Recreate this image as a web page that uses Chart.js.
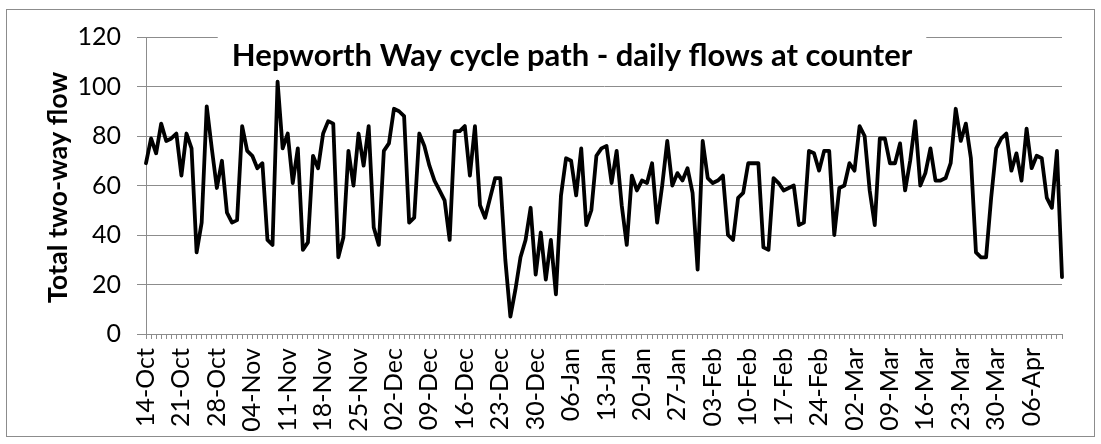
<!DOCTYPE html>
<html>
<head>
<meta charset="utf-8">
<title>Hepworth Way cycle path</title>
<script src="https://cdn.jsdelivr.net/npm/chart.js@4.4.1/dist/chart.umd.min.js"></script>
<style>
  html, body { margin: 0; padding: 0; background: #fff; }
  #wrap { width: 1101px; height: 444px; }
</style>
</head>
<body>
<div id="wrap"><canvas id="flowChart" width="1101" height="444"></canvas></div>
<script>
// daily two-way counts, one array per month
const octFlows = [69, 79, 73, 85, 78, 79, 81, 64, 81, 75, 33, 45, 92, 75, 59, 70, 49, 45];
const novFlows = [46, 84, 74, 72, 67, 69, 38, 36, 102, 75, 81, 61, 75, 34, 37, 72, 67, 81, 86, 85,
                  31, 39, 74, 60, 81, 68, 84, 43, 36, 74];
const decFlows = [77, 91, 90, 88, 45, 47, 81, 76, 68, 62, 58, 54, 38, 82, 82, 84, 64, 84, 52, 47,
                  55, 63, 63, 30, 7, 18, 31, 38, 51, 24, 41];
const janFlows = [22, 38, 16, 56, 71, 70, 56, 75, 44, 50, 72, 75, 76, 61, 74, 52, 36, 64, 58, 62,
                  61, 69, 45, 60, 78, 60, 65, 62, 67, 57, 26];
const febFlows = [78, 63, 61, 62, 64, 40, 38, 55, 57, 69, 69, 69, 35, 34, 63, 61, 58, 59, 60, 44,
                  45, 74, 73, 66, 74, 74, 40, 59, 60];
const marFlows = [69, 66, 84, 80, 58, 44, 79, 79, 69, 69, 77, 58, 70, 86, 60, 65, 75, 62, 62, 63,
                  69, 91, 78, 85, 71, 33, 31, 31, 55, 75, 79];
const aprFlows = [81, 66, 73, 62, 83, 67, 72, 71, 55, 51, 74, 23];

// month name + first day of the counts in that month
const monthNames = ['Oct', 'Nov', 'Dec', 'Jan', 'Feb', 'Mar', 'Apr'];
const monthFirstDay = [14, 1, 1, 1, 1, 1, 1];

// labels shown on the x axis (one a week)
const weekTicks = ['14-Oct', '21-Oct', '28-Oct', '04-Nov', '11-Nov', '18-Nov', '25-Nov', '02-Dec',
                   '09-Dec', '16-Dec', '23-Dec', '30-Dec', '06-Jan', '13-Jan', '20-Jan', '27-Jan',
                   '03-Feb', '10-Feb', '17-Feb', '24-Feb', '02-Mar', '09-Mar', '16-Mar', '23-Mar',
                   '30-Mar', '06-Apr'];

const yTicks = [0, 20, 40, 60, 80, 100, 120];

const chartTitle = 'Hepworth Way cycle path - daily flows at counter';
const yTitle = 'Total two-way flow';

// ---- build category list + series
const monthFlows = [octFlows, novFlows, decFlows, janFlows, febFlows, marFlows, aprFlows];
let days = [];
let flows = [];
monthFlows.forEach((arr, m) => {
    arr.forEach((v, k) => {
        let d = monthFirstDay[m] + k;
        days.push((d < 10 ? '0' + d : '' + d) + '-' + monthNames[m]);
        flows.push(v);
    });
});

const FONT = 'Lato, Carlito, "Liberation Sans", sans-serif';
const GRID = '#8c8c8c';

// white page + grey frame round the chart
const framePlugin = {
    id: 'frame',
    beforeDraw(chart) {
        const c = chart.ctx;
        c.save();
        c.fillStyle = '#fff';
        c.fillRect(0, 0, chart.width, chart.height);
        c.strokeStyle = GRID;
        c.lineWidth = 1;
        c.strokeRect(6.5, 9.5, 1088, 427);
        c.restore();
    }
};

// title (sits inside the plot with a white box) and rotated axis title
const textPlugin = {
    id: 'texts',
    afterDraw(chart) {
        const c = chart.ctx;
        const a = chart.chartArea;
        c.save();
        c.font = 'bold 31px ' + FONT;
        const w = c.measureText(chartTitle).width;
        const cx = 572;
        c.fillStyle = '#fff';
        c.fillRect(cx - w / 2 - 14, 28, w + 28, 48);
        c.fillStyle = '#000';
        c.textAlign = 'center';
        c.textBaseline = 'middle';
        c.fillText(chartTitle, cx, 56);

        c.translate(58, (a.top + a.bottom) / 2 + 2);
        c.rotate(-Math.PI / 2);
        c.font = 'bold 27px ' + FONT;
        c.fillText(yTitle, 0, 0);
        c.restore();
    }
};

const ctx = document.getElementById('flowChart').getContext('2d');
const flowChart = new Chart(ctx, {
    type: 'line',
    data: {
        labels: days,
        datasets: [{
            label: 'Total two-way flow',
            data: flows,
            borderColor: '#000',
            borderWidth: 3.8,
            borderJoinStyle: 'round',
            borderCapStyle: 'round',
            pointRadius: 0,
            tension: 0,
            fill: false
        }]
    },
    options: {
        responsive: false,
        animation: false,
        layout: { padding: { top: 37, right: 21, left: 0, bottom: 0 } },
        plugins: {
            legend: { display: false },
            tooltip: { enabled: false }
        },
        scales: {
            x: {
                offset: false,
                grid: {
                    drawOnChartArea: false,
                    drawTicks: true,
                    tickLength: 5,
                    color: GRID
                },
                border: { color: GRID, width: 1 },
                ticks: {
                    autoSkip: false,
                    minRotation: 90,
                    maxRotation: 90,
                    padding: 9,
                    color: '#000',
                    font: { family: FONT, size: 25 },
                    callback: function(val, idx) {
                        return idx % 7 === 0 ? weekTicks[idx / 7] : '';
                    }
                },
                afterFit: function(scale) { scale.height = 110; }
            },
            y: {
                min: 0,
                max: 120,
                afterBuildTicks: function(scale) {
                    scale.ticks = yTicks.map(v => ({ value: v }));
                },
                grid: {
                    color: GRID,
                    tickLength: 9,
                    drawTicks: true
                },
                border: { color: GRID, width: 1 },
                ticks: {
                    padding: 16,
                    color: '#000',
                    font: { family: FONT, size: 25 }
                },
                afterFit: function(scale) { scale.width = 146; }
            }
        }
    },
    plugins: [framePlugin, textPlugin]
});
</script>
</body>
</html>
